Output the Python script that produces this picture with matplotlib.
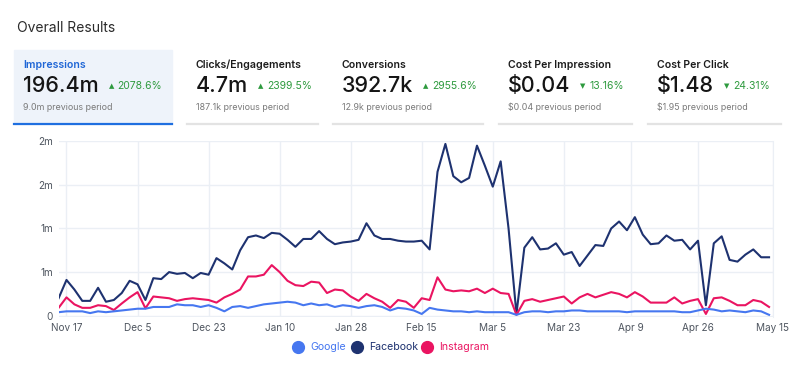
import numpy as np
import pandas as pd
import matplotlib
matplotlib.use("Agg")
import matplotlib.pyplot as plt
import matplotlib.dates as mdates
from matplotlib.patches import Rectangle
from matplotlib.ticker import FixedLocator, FixedFormatter

plt.rcParams['font.family'] = ['Inter', 'DejaVu Sans']

# --- DATA ---
card_labels = ["Impressions", "Clicks/Engagements", "Conversions",
               "Cost Per Impression", "Cost Per Click"]
card_values = ["196.4m", "4.7m", "392.7k", "$0.04", "$1.48"]
card_changes = ["2078.6%", "2399.5%", "2955.6%", "13.16%", "24.31%"]
card_up = [True, True, True, False, False]
card_prev = ["9.0m", "187.1k", "12.9k", "$0.04", "$1.95"]

dates = pd.date_range("2022-11-15", periods=91, freq="2D")

# values in millions
facebook = [0.20, 0.41, 0.30, 0.17, 0.17, 0.32, 0.16, 0.18, 0.26, 0.40, 0.36, 0.18, 0.43, 0.42, 0.50,
            0.48, 0.49, 0.43, 0.49, 0.47, 0.66, 0.60, 0.53, 0.75, 0.90, 0.92, 0.89, 0.95, 0.94, 0.87,
            0.79, 0.88, 0.88, 0.97, 0.88, 0.82, 0.84, 0.85, 0.87, 1.06, 0.92, 0.88, 0.88, 0.86, 0.85,
            0.85, 0.86, 0.76, 1.65, 1.97, 1.60, 1.53, 1.58, 1.95, 1.72, 1.48, 1.77, 1.00, 0.02, 0.78,
            0.90, 0.76, 0.77, 0.83, 0.70, 0.73, 0.57, 0.69, 0.81, 0.80, 1.00, 1.08, 0.98, 1.13, 0.93,
            0.82, 0.83, 0.92, 0.86, 0.87, 0.76, 0.86, 0.12, 0.83, 0.91, 0.64, 0.62, 0.70, 0.76, 0.67,
            0.67]
instagram = [0.09, 0.21, 0.13, 0.09, 0.09, 0.12, 0.11, 0.065, 0.14, 0.21, 0.27, 0.085, 0.22, 0.21, 0.20,
             0.17, 0.19, 0.20, 0.19, 0.18, 0.15, 0.21, 0.25, 0.30, 0.45, 0.45, 0.47, 0.58, 0.50, 0.40,
             0.35, 0.34, 0.39, 0.38, 0.26, 0.30, 0.29, 0.22, 0.17, 0.25, 0.20, 0.16, 0.09, 0.18, 0.16,
             0.09, 0.20, 0.18, 0.44, 0.30, 0.28, 0.29, 0.28, 0.31, 0.26, 0.31, 0.26, 0.25, 0.01, 0.17,
             0.19, 0.16, 0.18, 0.20, 0.22, 0.14, 0.21, 0.25, 0.21, 0.24, 0.27, 0.25, 0.21, 0.27, 0.22,
             0.15, 0.15, 0.15, 0.21, 0.14, 0.17, 0.19, 0.02, 0.20, 0.21, 0.17, 0.12, 0.12, 0.18, 0.16,
             0.10]
google = [0.04, 0.05, 0.05, 0.05, 0.03, 0.05, 0.04, 0.05, 0.06, 0.07, 0.08, 0.08, 0.10, 0.10, 0.10,
          0.13, 0.12, 0.12, 0.10, 0.12, 0.09, 0.05, 0.10, 0.11, 0.09, 0.11, 0.13, 0.14, 0.15, 0.16,
          0.15, 0.12, 0.14, 0.12, 0.13, 0.10, 0.12, 0.11, 0.09, 0.11, 0.12, 0.10, 0.06, 0.09, 0.08,
          0.06, 0.02, 0.09, 0.07, 0.06, 0.05, 0.05, 0.04, 0.05, 0.04, 0.04, 0.04, 0.04, 0.01, 0.04,
          0.05, 0.05, 0.04, 0.05, 0.05, 0.06, 0.06, 0.05, 0.05, 0.05, 0.05, 0.05, 0.04, 0.05, 0.05,
          0.05, 0.05, 0.05, 0.05, 0.04, 0.04, 0.06, 0.08, 0.07, 0.05, 0.06, 0.05, 0.04, 0.06, 0.05,
          0.01]

tick_dates = ["2022-11-17", "2022-12-05", "2022-12-23", "2023-01-10", "2023-01-28", "2023-02-15",
              "2023-03-05", "2023-03-23", "2023-04-09", "2023-04-26", "2023-05-15"]
tick_labels = ["Nov 17", "Dec 5", "Dec 23", "Jan 10", "Jan 28", "Feb 15",
               "Mar 5", "Mar 23", "Apr 9", "Apr 26", "May 15"]
y_ticks = [0, 0.5, 1.0, 1.5, 2.0]
y_labels = ["0", "1m", "1m", "2m", "2m"]

series_names = ["Google", "Facebook", "Instagram"]
series_colors = ["#4677F0", "#1E3270", "#EA1461"]

# --- FIGURE (pixel helpers) ---
W, H = 800, 378
fig = plt.figure(figsize=(W / 100, H / 100), dpi=100)
fig.patch.set_facecolor("white")


def fx(x):
    return x / W


def fy(y):
    return 1 - y / H


fig.text(fx(17), fy(28), "Overall Results", fontsize=10, color="#2b2b2b",
         va="center", ha="left")

# KPI cards
card_x0 = [14, 187, 333, 499, 648]
card_x1 = [172, 318, 483, 632, 781]
green = "#2E9A3E"
renderer = fig.canvas.get_renderer()
for i in range(len(card_labels)):
    x0, x1 = card_x0[i], card_x1[i]
    if i == 0:
        fig.patches.append(Rectangle((fx(x0), fy(124)), fx(x1 - x0), 74 / H,
                                     transform=fig.transFigure, color="#EEF3FA", zorder=0))
        line_c, lw = "#1F6FE0", 1.6
        lab_c = "#1F66D6"
    else:
        line_c, lw = "#E3E3E3", 1.6
        lab_c = "#1c1c1c"
    fig.add_artist(plt.Line2D([fx(x0), fx(x1)], [fy(124), fy(124)], color=line_c, lw=lw,
                              transform=fig.transFigure))
    tx = x0 + 9
    fig.text(fx(tx), fy(65), card_labels[i], fontsize=7.6, weight="semibold", color=lab_c,
             va="center", ha="left")
    vt = fig.text(fx(tx), fy(86), card_values[i], fontsize=15.5, weight="medium",
                  color="#151515", va="center", ha="left")
    bb = vt.get_window_extent(renderer)
    vx = bb.x1 + 10
    fig.text(vx / W, fy(86), "▲" if card_up[i] else "▼", fontsize=5, color=green,
             va="center", ha="left", family="DejaVu Sans")
    fig.text((vx + 9) / W, fy(86), card_changes[i], fontsize=7.5, color=green,
             va="center", ha="left")
    fig.text(fx(tx), fy(107), card_prev[i] + " previous period", fontsize=6.4,
             color="#7a7a7a", va="center", ha="left")

# --- LINE CHART ---
ax = fig.add_axes([fx(58.6), fy(317), fx(773 - 58.6), (317 - 141.3) / H])
ax.set_facecolor("white")
for name, vals, col in zip(series_names, [google, facebook, instagram], series_colors):
    ax.plot(dates, vals, color=col, lw=1.5, label=name, zorder=3 if name != "Google" else 4,
            solid_joinstyle="round")

ax.set_xlim(pd.Timestamp("2022-11-15"), pd.Timestamp("2023-05-15"))
ax.set_ylim(-0.015, 2.0)
ax.xaxis.set_major_locator(FixedLocator(mdates.date2num(pd.to_datetime(tick_dates))))
ax.xaxis.set_major_formatter(FixedFormatter(tick_labels))
ax.yaxis.set_major_locator(FixedLocator(y_ticks))
ax.yaxis.set_major_formatter(FixedFormatter(y_labels))
ax.grid(True, color="#EBEFF5", lw=1)
ax.set_axisbelow(True)
ax.tick_params(length=0, labelsize=7.2, labelcolor="#4f5660", pad=4)
for s in ax.spines.values():
    s.set_visible(False)
ax.spines["right"].set_visible(True)
ax.spines["right"].set_color("#EBEFF5")

# legend
leg_x = [298, 357, 427]
for name, col, lx in zip(series_names, series_colors, leg_x):
    fig.add_artist(plt.Line2D([fx(lx)], [fy(347)], marker="o", markersize=8.5,
                              color=col, transform=fig.transFigure, lw=0))
    fig.text(fx(lx + 12), fy(347), name, fontsize=7.6, color=col, va="center", ha="left")

fig.savefig("out.png", dpi=100)
